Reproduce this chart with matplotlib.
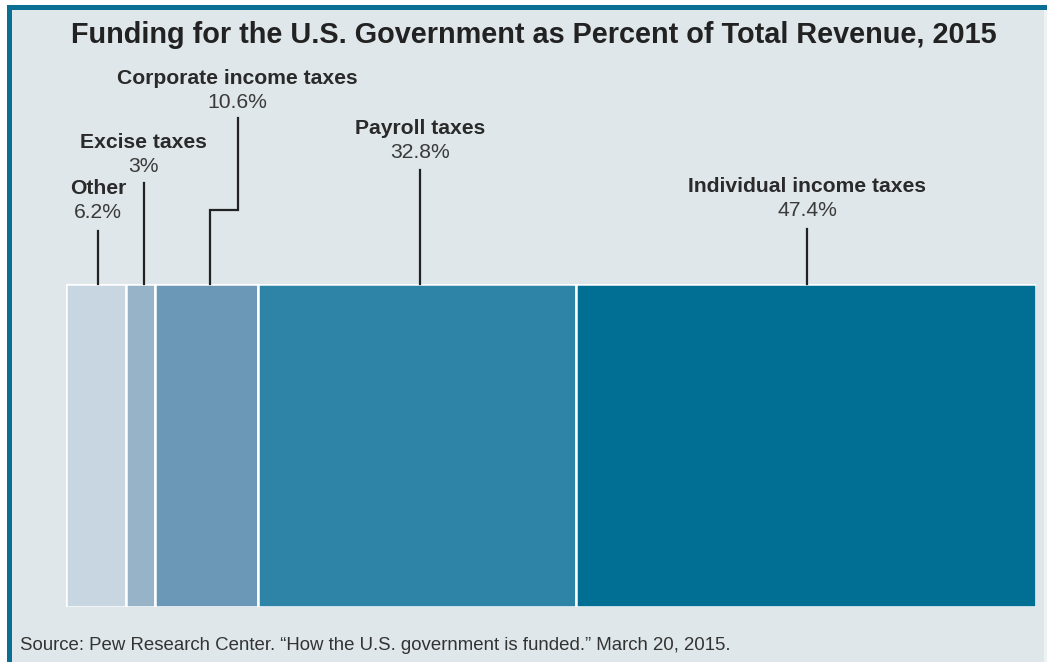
import matplotlib
matplotlib.use("Agg")
import matplotlib.pyplot as plt
from matplotlib.patches import Rectangle
from matplotlib.transforms import blended_transform_factory

# Revenue shares (percent of total), left to right along the bar
categories = ["Other", "Excise taxes", "Corporate income taxes", "Payroll taxes", "Individual income taxes"]
shares = [6.2, 3.0, 10.6, 32.8, 47.4]
share_labels = ["6.2%", "3%", "10.6%", "32.8%", "47.4%"]
colors = ["#c8d6e2", "#97b3c8", "#6b98b7", "#2e84a6", "#016f94"]

W, H = 1047, 662
fig = plt.figure(figsize=(W / 100, H / 100), dpi=100)
fig.patch.set_facecolor("white")

def px(x, y):
    """Pixel position (from top-left) to figure fraction."""
    return x / W, 1 - y / H

# Panel background with a dark teal edge on the top and left
for (xa, ya, xb, yb, fc) in [(7, 5, W + 5, H + 5, "#0b6f93"),
                             (12, 10, W - 3, H + 5, "#dfe7ea"),
                             (W - 3, 10, W, H + 5, "#eef2f3")]:
    fig.patches.append(Rectangle(px(xa, yb), (xb - xa) / W, (yb - ya) / H,
                                 transform=fig.transFigure, facecolor=fc,
                                 edgecolor="none", zorder=-5))

font = "Liberation Sans"

fig.text(*px(534, 35), "Funding for the U.S. Government as Percent of Total Revenue, 2015",
         ha="center", va="center", fontsize=20.8, fontweight="bold",
         color="#222222", family=font)
fig.text(*px(20, 645), "Source: Pew Research Center. \u201cHow the U.S. government is funded.\u201d March 20, 2015.",
         ha="left", va="center", fontsize=13.4, color="#333333", family=font)

# Bar axes: 0-100 % across the width
x0, x1, y_top, y_bot = 66, 1036, 284, 607
ax = fig.add_axes([x0 / W, 1 - y_bot / H, (x1 - x0) / W, (y_bot - y_top) / H])
ax.set_zorder(2)
ax.patch.set_visible(False)
ax.set_xlim(0, 100)
ax.set_ylim(0, 1)
ax.axis("off")

lefts = []
acc = 0.0
for s in shares:
    lefts.append(acc)
    acc += s
ax.barh([0.5] * len(shares), shares, left=lefts, height=1.0, color=colors,
        edgecolor="white", linewidth=1.8, zorder=2)

# Leader lines and labels: x in data units, y in figure pixels
trans = blended_transform_factory(ax.transData, fig.transFigure)
def fy(y):
    return 1 - y / H

line_top = [231, 183, 210, 170, 229]
label_y = [189, 142, 78, 128, 186]
label_dx = [0.2, 0.3, 3.2, 0.3, 0.1]
corp_top = 118

for i, (cat, lab) in enumerate(zip(categories, share_labels)):
    cx = lefts[i] + shares[i] / 2
    lx = cx + label_dx[i]
    if i == 2:
        xs = [cx + 0.3, cx + 0.3, lx, lx]
        ys = [fy(y_top), fy(line_top[i]), fy(line_top[i]), fy(corp_top)]
    else:
        xs = [lx, lx]
        ys = [fy(y_top), fy(line_top[i])]
    ax.plot(xs, ys, transform=trans, color="#222222", linewidth=1.6,
            clip_on=False, solid_joinstyle="miter", zorder=3)
    ax.text(lx, fy(label_y[i]), cat, transform=trans, ha="center", va="center",
            fontsize=15.2, fontweight="bold", color="#2a2a2a", family=font)
    ax.text(lx, fy(label_y[i] + 24), lab, transform=trans, ha="center", va="center",
            fontsize=15.2, color="#3a3a3a", family=font)

fig.savefig("out.png", dpi=100, facecolor=fig.get_facecolor())
